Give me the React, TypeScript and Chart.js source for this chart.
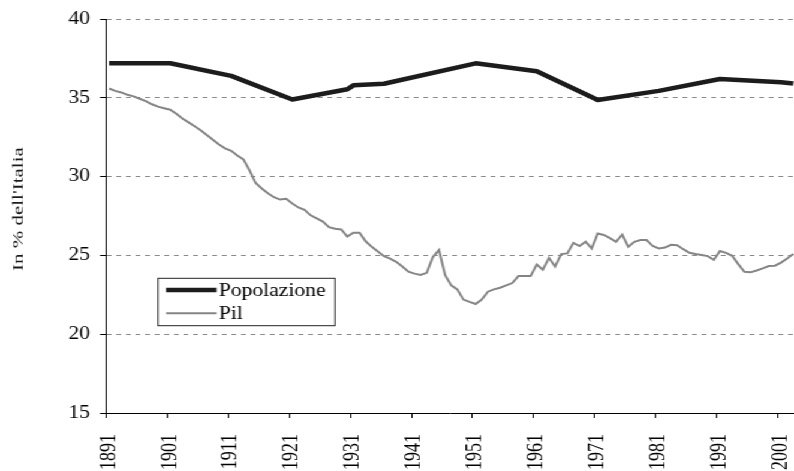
import { useEffect, useRef } from "react";
import { Chart, registerables } from "chart.js";

Chart.register(...registerables);

// Popolazione: census-year values (line is straight between them)
const popYears = [1891, 1901, 1911, 1921, 1930, 1931, 1936, 1951, 1961, 1971, 1981, 1991, 2001, 2003];
const popValues = [37.2, 37.2, 36.4, 34.9, 35.55, 35.8, 35.9, 37.2, 36.7, 34.87, 35.45, 36.2, 36.0, 35.92];

// Pil: yearly values, starting in 1891
const pilStartYear = 1891;
const pilValues = [
  35.6, 35.45, 35.35, 35.2, 35.1, 34.95, 34.8, 34.6, 34.45, 34.35,
  34.25, 34.0, 33.7, 33.45, 33.2, 32.95, 32.65, 32.35, 32.05, 31.8,
  31.65, 31.35, 31.1, 30.4, 29.6, 29.25, 28.95, 28.7, 28.55, 28.6,
  28.3, 28.05, 27.9, 27.55, 27.35, 27.15, 26.8, 26.7, 26.65, 26.2,
  26.45, 26.45, 25.9, 25.55, 25.25, 24.95, 24.8, 24.6, 24.3, 23.97,
  23.85, 23.76, 23.9, 24.9, 25.35, 23.76, 23.1, 22.85, 22.2, 22.05,
  21.92, 22.2, 22.7, 22.85, 22.95, 23.1, 23.25, 23.69, 23.69, 23.69,
  24.43, 24.1, 24.85, 24.3, 25.09, 25.13, 25.8, 25.6, 25.87, 25.45,
  26.4, 26.3, 26.1, 25.87, 26.33, 25.55, 25.87, 25.98, 25.98, 25.6,
  25.45, 25.5, 25.68, 25.65, 25.4, 25.17, 25.09, 25.03, 24.96, 24.72,
  25.28, 25.17, 24.98, 24.45, 23.97, 23.93, 24.05, 24.18, 24.33, 24.35,
  24.55, 24.81, 25.1,
];

const xTickYears = [1891, 1901, 1911, 1921, 1931, 1941, 1951, 1961, 1971, 1981, 1991, 2001];
const yTickValues = [15, 20, 25, 30, 35, 40];

const seriesLabels = ["Popolazione", "Pil"];
const yAxisTitle = "In % dell'Italia";

const CANVAS_W = 662;
const CANVAS_H = 471;
const STRETCH = 794 / CANVAS_W;
const FONT_FAMILY = "'Liberation Serif', 'Times New Roman', serif";

const boxLegend = {
  id: "boxLegend",
  afterDraw(chart: any) {
    const ctx = chart.ctx as CanvasRenderingContext2D;
    const bx = 131.7, by = 278.3, bw = 147.6, bh = 47.4;
    ctx.save();
    ctx.fillStyle = "#ffffff";
    ctx.fillRect(bx, by, bw, bh);
    ctx.strokeStyle = "#222222";
    ctx.lineWidth = 1;
    ctx.strokeRect(bx, by, bw, bh);
    chart.data.datasets.forEach((ds: any, i: number) => {
      const cy = by + 11.7 + i * 23.3;
      ctx.beginPath();
      ctx.strokeStyle = ds.borderColor;
      ctx.lineWidth = ds.borderWidth;
      ctx.moveTo(138.4, cy);
      ctx.lineTo(180.6, cy);
      ctx.stroke();
      ctx.fillStyle = "#000000";
      ctx.font = `18px ${FONT_FAMILY}`;
      ctx.textBaseline = "alphabetic";
      ctx.textAlign = "left";
      ctx.fillText(ds.label, 182.5, cy + 6);
    });
    ctx.restore();
  },
};

// Rotated y-axis title, drawn narrow as in the reference
const yTitle = {
  id: "yTitle",
  afterDraw(chart: any) {
    const ctx = chart.ctx as CanvasRenderingContext2D;
    const area = chart.chartArea;
    ctx.save();
    ctx.translate(18.9, (area.top + area.bottom) / 2 - 7);
    ctx.rotate(-Math.PI / 2);
    ctx.scale(1, 0.62);
    ctx.fillStyle = "#1a1a1a";
    ctx.font = `21px ${FONT_FAMILY}`;
    ctx.textAlign = "center";
    ctx.textBaseline = "alphabetic";
    ctx.fillText(yAxisTitle, 0, 0);
    ctx.restore();
  },
};

export default function App() {
  const ref = useRef<HTMLCanvasElement | null>(null);

  useEffect(() => {
    document.body.style.margin = "0";
    if (!ref.current) return;
    const font = { family: FONT_FAMILY, size: 18 };
    const chart = new Chart(ref.current, {
      type: "line",
      data: {
        datasets: [
          {
            label: seriesLabels[0],
            data: popYears.map((x, i) => ({ x, y: popValues[i] })),
            borderColor: "#1c1c1c",
            borderWidth: 4.5,
            pointRadius: 0,
            tension: 0,
            borderJoinStyle: "round",
          },
          {
            label: seriesLabels[1],
            data: pilValues.map((y, i) => ({ x: pilStartYear + i, y })),
            borderColor: "#858585",
            borderWidth: 2,
            pointRadius: 0,
            tension: 0,
          },
        ],
      },
      options: {
        animation: false,
        responsive: false,
        devicePixelRatio: 1,
        layout: { padding: { top: 19, right: 0, bottom: 0, left: 0 } },
        plugins: { legend: { display: false }, tooltip: { enabled: false } },
        scales: {
          x: {
            type: "linear",
            min: 1890.5,
            max: 2003.12,
            afterBuildTicks: (s: any) => {
              s.ticks = xTickYears.map((y) => ({ value: y - 0.5 }));
            },
            afterFit: (s: any) => {
              s.height = 58;
              s.paddingLeft = 0;
              s.paddingRight = 0;
            },
            ticks: {
              autoSkip: false,
              minRotation: 90,
              maxRotation: 90,
              padding: 16,
              labelOffset: 2.5,
              font,
              color: "#000000",
              callback: (v: any) => String(Math.round(Number(v) + 0.5)),
            },
            grid: {
              drawOnChartArea: false,
              tickLength: 5,
              tickColor: "#000000",
              tickWidth: 1,
              tickBorderDash: [],
            },
            border: { color: "#000000", width: 1 },
          },
          y: {
            min: 15,
            max: 40,
            afterBuildTicks: (s: any) => {
              s.ticks = yTickValues.map((v) => ({ value: v }));
            },
            afterFit: (s: any) => {
              s.width = 88.4;
            },
            ticks: { padding: 8.4, font, color: "#000000" },
            grid: {
              color: (c: any) => (c.tick && c.tick.value === 15 ? "rgba(0,0,0,0)" : "#8a8a8a"),
              lineWidth: 1,
              tickColor: "#000000",
              tickLength: 5,
              tickWidth: 1,
              tickBorderDash: [],
            },
            border: { color: "#000000", width: 1, dash: [4, 4] },
            title: { display: false },
          },
        },
      },
      plugins: [boxLegend, yTitle],
    });
    return () => chart.destroy();
  }, []);

  return (
    <div
      style={{
        width: CANVAS_W,
        height: CANVAS_H,
        transform: `scaleX(${STRETCH})`,
        transformOrigin: "0 0",
        background: "#ffffff",
      }}
    >
      <canvas ref={ref} width={CANVAS_W} height={CANVAS_H} />
    </div>
  );
}
